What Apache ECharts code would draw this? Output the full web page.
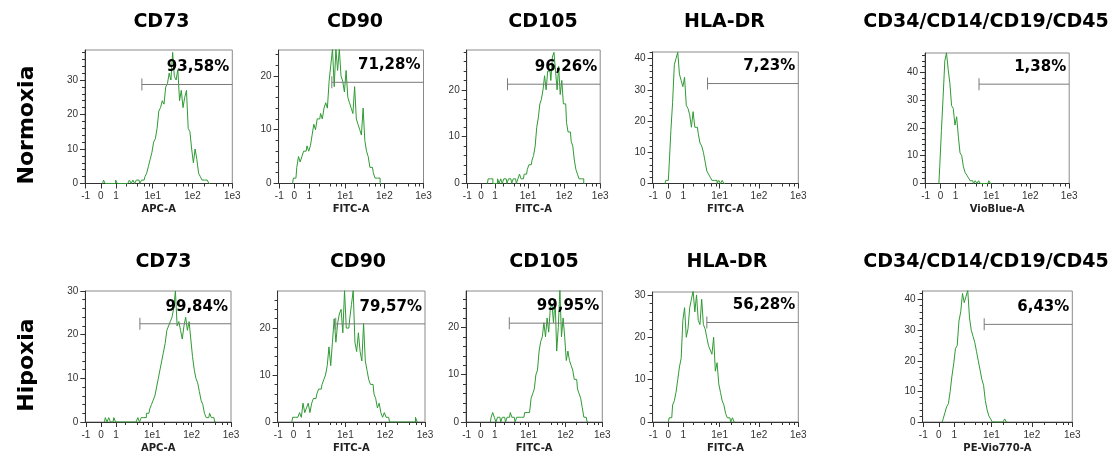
<!DOCTYPE html>
<html><head><meta charset="utf-8">
<script src="https://cdn.jsdelivr.net/npm/echarts@6/dist/echarts.min.js"></script>
<style>html,body{margin:0;padding:0;background:#fff}#c{width:1117px;height:457px}</style>
</head><body><div id="c"></div>
<script>
// ---------------- data ----------------
const STEP = 0.1; // histogram channel width on the asinh (biexponential-like) scale
const MARKERS = ['CD73', 'CD90', 'CD105', 'HLA-DR', 'CD34/CD14/CD19/CD45'];
const CONDITIONS = ['Normoxia', 'Hipoxia'];
const X_TICK_VALUES = [-1, 0, 1, 10, 100, 1000];
const X_TICK_LABELS = ['-1', '0', '1', '1e1', '1e2', '1e3'];
const X_MINOR_VALUES = [2, 4, 6, 8, 20, 40, 60, 80, 200, 400, 600, 800];
const CHANNELS_N = ['APC-A', 'FITC-A', 'FITC-A', 'FITC-A', 'VioBlue-A'];
const CHANNELS_H = ['APC-A', 'FITC-A', 'FITC-A', 'FITC-A', 'PE-Vio770-A'];
const PCT_N = ['93,58%', '71,28%', '96,26%', '7,23%', '1,38%'];
const PCT_H = ['99,84%', '79,57%', '99,95%', '56,28%', '6,43%'];
const GATE_START_N = [5.3, 4.5, 2.6, 4.9, 4.8];
const GATE_START_H = [4.8, 5.7, 2.9, 4.7, 6.6];
const GATE_LEVEL_N = [28.7, 18.8, 21.2, 32.0, 35.7];
const GATE_LEVEL_H = [22.5, 20.9, 20.9, 23.5, 31.9];
const YMAX_N = [38.7, 24.8, 28.5, 42.1, 46.9];
const YMAX_H = [30, 27.9, 27.7, 30.7, 42.8];

// histogram counts per channel; first channel index given in *_START (channel c sits at c*STEP)
const N_CD73_START = 1;
const N_CD73 = [0,1,0,0,0,0,0,0,1,0,0,0,0,0,0,0,1,0,1,0,1,1,0,
  1,1,2,3,5,7,9,12,13,16,21,22,24,23,28,29,32,30,38,31,30,33,24,27,22,25,27,16,15,10,6,10,7,3,2,1,1,1,1,0];
const N_CD90_START = -1;
const N_CD90 = [0,1,1,3,5,4,5,6,6,7,6,7,9,11,10,12,12,13,12,14,15,14,19,22,25,18,25,21,25,20,19,17,21,16,15,14,13,18,12,11,10,9,14,8,6,5,3,3,2,1,1,1,0];
const N_CD105_START = 4;
const N_CD105 = [0,1,1,1,0,0,0,1,0,1,0,1,1,0,1,1,0,1,1,0,1,2,1,1,2,2,3,4,4,5,6,8,12,14,17,18,20,23,20,24,24,22,27,28,24,20,25,19,22,17,17,13,11,11,9,8,5,3,2,1,1,1,0];
const N_HLADR_START = -2;
const N_HLADR = [0,1,1,6,17,26,38,40,42,35,33,31,34,25,24,22,18,23,18,18,16,13,12,10,7,4,3,2,1,1,1,0,1,0,1,0];
const N_CD34_START = -1;
const N_CD34 = [0,6,19,31,44,47,41,36,28,27,21,24,17,11,10,6,4,3,2,1,1,0,1,0,1,0,0,0,0,0,1,0];

const H_CD73_START = 2;
const H_CD73 = [0,1,0,1,0,0,1,0,0,0,0,0,0,0,0,0,0,0,0,0,1,0,1,1,1,2,2,3,4,5,6,8,10,12,14,16,18,21,22,23,24,26,30,22,23,21,19,22,24,21,23,19,15,12,10,9,7,5,4,2,1,1,2,1,1,0];
const H_CD90_START = -1;
const H_CD90 = [0,1,1,1,1,2,1,4,2,3,4,2,4,5,5,6,7,7,8,9,10,12,16,12,17,22,17,21,23,24,19,28,20,20,22,25,28,17,15,19,15,13,21,13,11,9,8,8,6,5,3,4,2,1,2,1,1,0,
  0,0,0,0,0,0,0,0,0,0,0,0,0,0,1,0];
const H_CD105_START = 6;
const H_CD105 = [0,1,2,1,0,1,1,0,1,1,0,1,1,2,1,1,0,1,1,1,1,1,2,2,2,2,5,6,7,10,11,15,17,18,21,18,22,19,24,25,21,26,15,20,28,18,22,18,13,15,13,12,11,9,9,7,6,5,3,1,1,0];
const H_HLADR_START = 0;
const H_HLADR = [0,1,1,4,5,7,10,13,15,24,27,20,22,27,29,31,26,30,24,23,29,23,22,20,18,17,16,20,12,14,9,7,5,4,2,1,1,0,1,0];
const H_CD34_START = 2;
const H_CD34 = [0,1,3,5,6,10,15,19,24,25,33,36,42,39,41,43,34,30,28,26,23,20,17,14,12,7,4,2,1,0,0,0,0,0,0,0,1,0];

// ---------------- layout (px) ----------------
const LAYOUT = [
  [85, 50, 147.3, 133.5], [278.6, 50, 144.9, 133.5], [466.7, 50, 133.5, 133.5], [652.6, 52, 145.7, 131.5], [925, 53, 144.2, 130.5],
  [85.3, 291, 145.7, 131], [277.6, 291, 147.4, 131], [466, 291, 136.3, 131], [652.6, 292, 145.7, 130], [922.6, 291, 149.7, 131]
];
const TITLE_POS = [[161.5, 22], [355, 22], [543, 22], [724.5, 22], [986, 22],
                   [163.5, 262], [358, 262], [544, 262], [727, 262], [986, 262]];
const ROW_LABEL_POS = [[27, 125], [27, 365]];

// ---------------- build ----------------
const U = v => Math.asinh(v);
const U_MIN = -0.92, U_MAX = U(1000);
const xMajor = X_TICK_VALUES.map(U);
const xMinor = X_MINOR_VALUES.map(U);

const panels = [];
const histN = [[N_CD73, N_CD73_START], [N_CD90, N_CD90_START], [N_CD105, N_CD105_START], [N_HLADR, N_HLADR_START], [N_CD34, N_CD34_START]];
const histH = [[H_CD73, H_CD73_START], [H_CD90, H_CD90_START], [H_CD105, H_CD105_START], [H_HLADR, H_HLADR_START], [H_CD34, H_CD34_START]];
for (let r = 0; r < 2; r++) {
  for (let c = 0; c < 5; c++) {
    const h = r === 0 ? histN[c] : histH[c];
    panels.push({
      title: MARKERS[c],
      counts: h[0], start: h[1],
      channel: r === 0 ? CHANNELS_N[c] : CHANNELS_H[c],
      pct: r === 0 ? PCT_N[c] : PCT_H[c],
      gateStart: r === 0 ? GATE_START_N[c] : GATE_START_H[c],
      gateLevel: r === 0 ? GATE_LEVEL_N[c] : GATE_LEVEL_H[c],
      ymax: r === 0 ? YMAX_N[c] : YMAX_H[c]
    });
  }
}

const AX = '#333';
const grid = [], xAxis = [], yAxis = [], series = [], graphic = [];
panels.forEach((p, i) => {
  const L = LAYOUT[i];
  grid.push({left: L[0], top: L[1], width: L[2], height: L[3], show: true, borderColor: '#8a8a8a', borderWidth: 1,
    containLabel: false, outerBoundsMode: 'none'});
  const yMajor = [], yMinor = [];
  for (let v = 0; v <= p.ymax; v += 2) { (v % 10 === 0 ? yMajor : yMinor).push(v); }
  xAxis.push({
    gridIndex: i, type: 'value', position: 'bottom', min: U_MIN, max: U_MAX,
    axisLine: {show: true, onZero: false, lineStyle: {color: AX, width: 1}},
    axisTick: {show: true, customValues: xMajor, length: 5, lineStyle: {color: AX}},
    axisLabel: {show: true, customValues: xMajor, margin: 8, fontSize: 10, color: '#333', fontFamily: 'Liberation Sans',
      formatter: v => { let k = 0, best = 1e9; xMajor.forEach((m, j) => { if (Math.abs(m - v) < best) { best = Math.abs(m - v); k = j; } }); return X_TICK_LABELS[k]; }},
    splitLine: {show: false},
    name: p.channel, nameLocation: 'middle', nameGap: 21,
    nameTextStyle: {fontSize: 10, fontWeight: 'bold', color: '#222', fontFamily: 'DejaVu Sans'}
  });
  xAxis.push({
    gridIndex: i, type: 'value', position: 'bottom', min: U_MIN, max: U_MAX,
    axisLine: {show: false, onZero: false},
    axisTick: {show: true, customValues: xMinor, length: 3, lineStyle: {color: AX}},
    axisLabel: {show: false}, splitLine: {show: false}
  });
  yAxis.push({
    gridIndex: i, type: 'value', position: 'left', min: 0, max: p.ymax,
    axisLine: {show: true, onZero: false, lineStyle: {color: AX, width: 1}},
    axisTick: {show: true, customValues: yMajor, length: 5, lineStyle: {color: AX}},
    axisLabel: {show: true, customValues: yMajor, margin: 7, fontSize: 10, color: '#333', fontFamily: 'Liberation Sans'},
    splitLine: {show: false}
  });
  yAxis.push({
    gridIndex: i, type: 'value', position: 'left', min: 0, max: p.ymax,
    axisLine: {show: false, onZero: false},
    axisTick: {show: true, customValues: yMinor, length: 3, lineStyle: {color: AX}},
    axisLabel: {show: false}, splitLine: {show: false}
  });
  series.push({
    type: 'line', xAxisIndex: 2 * i, yAxisIndex: 2 * i, step: 'middle', showSymbol: false, symbol: 'none',
    data: p.counts.map((cnt, k) => [(p.start + k) * STEP, cnt]),
    lineStyle: {color: '#2f9a33', width: 1}, itemStyle: {color: '#2f9a33'}, clip: true, z: 3, silent: true
  });
  series.push({
    type: 'line', xAxisIndex: 2 * i, yAxisIndex: 2 * i, showSymbol: true, silent: true,
    data: [{value: [U(p.gateStart), p.gateLevel], symbol: 'rect', symbolSize: [1, 12]},
           {value: [U_MAX, p.gateLevel], symbol: 'none'}],
    lineStyle: {color: '#7a7a7a', width: 1}, itemStyle: {color: '#7a7a7a'}, z: 4
  });
  graphic.push({type: 'text', x: TITLE_POS[i][0], y: TITLE_POS[i][1],
    style: {text: p.title, font: 'bold 19px "DejaVu Sans"', fill: '#000', align: 'center', verticalAlign: 'middle'}});
});
CONDITIONS.forEach((t, r) => {
  graphic.push({type: 'text', x: ROW_LABEL_POS[r][0], y: ROW_LABEL_POS[r][1], rotation: Math.PI / 2,
    style: {text: t, font: 'bold 22px "DejaVu Sans"', fill: '#000', align: 'center', verticalAlign: 'middle'}});
});

const chart = echarts.init(document.getElementById('c'), null, {renderer: 'canvas'});
chart.setOption({animation: false, backgroundColor: '#fff', grid, xAxis, yAxis, series, graphic});

// percentage labels above each gate, anchored through the axes' own scales
panels.forEach((p, i) => {
  const pt = chart.convertToPixel({xAxisIndex: 2 * i, yAxisIndex: 2 * i}, [U_MAX, p.gateLevel]);
  graphic.push({type: 'text', x: pt[0] - 3, y: pt[1] - 17,
    style: {text: p.pct, font: 'bold 15px "DejaVu Sans"', fill: '#000', align: 'right', verticalAlign: 'middle'}, z: 10});
});
chart.setOption({graphic});
</script>
</body></html>
